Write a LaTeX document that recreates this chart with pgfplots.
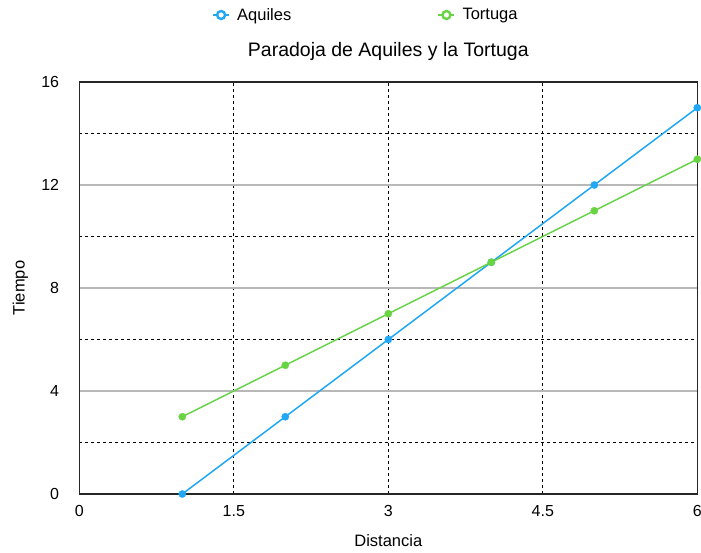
\documentclass[border=0pt]{standalone}
\usepackage{fontspec}
\setmainfont{Liberation Sans}
\usepackage{pgfplots}
\pgfplotsset{compat=1.18}
\definecolor{aqblue}{RGB}{33,168,245}
\definecolor{tortgreen}{RGB}{104,212,68}
\begin{document}
\begin{tikzpicture}[x=1pt,y=1pt]
\useasboundingbox (0,0) rectangle (701,552);
\begin{axis}[
  at={(79.3pt,58pt)}, anchor=south west,
  scale only axis, width=618pt, height=412pt,
  xmin=0, xmax=6, ymin=0, ymax=16,
  xtick={0,1.5,3,4.5,6}, ytick={0,4,8,12,16},
  xticklabels={0,1.5,3,4.5,6},
  minor ytick={2,6,10,14},
  xmajorgrids, ymajorgrids, yminorgrids,
  major x grid style={black, dash pattern=on 3pt off 3pt, line width=1.1pt},
  major y grid style={black!28, line width=1.2pt},
  minor y grid style={black, dash pattern=on 3pt off 3pt, line width=1.1pt},
  axis line style={black!85, line width=1.5pt},
  major tick length=0pt, minor tick length=0pt,
  /pgf/number format/assume math mode=true,
  ticklabel style={font=\fontsize{16}{18}\selectfont},
  yticklabel style={anchor=east, inner sep=0pt, xshift=-20pt},
  xticklabel style={anchor=north, inner sep=0pt, yshift=-11pt},
  title={Paradoja de Aquiles y la Tortuga},
  title style={at={(0.5,1.0607)}, anchor=center, font=\fontsize{19.5}{22}\selectfont},
  xlabel={Distancia},
  xlabel style={at={(0.5,-0.114)}, anchor=center, font=\fontsize{16.5}{19}\selectfont},
  ylabel={Tiempo},
  ylabel style={at={(-0.0955,0.5)}, anchor=center, font=\fontsize{16.5}{19}\selectfont},
  clip mode=individual,
  legend columns=2,
  legend style={draw=none, fill=none, at={(0.4636,1.1626)}, anchor=center,
    font=\fontsize{16.5}{19}\selectfont,
    /tikz/every odd column/.append style={column sep=5pt},
    /tikz/every even column/.append style={column sep=144pt}},
  legend image code/.code={
    \draw[#1, line width=2.2pt] (-8pt,0) -- (8pt,0);
    \draw[#1, line width=2.4pt, fill=white] (0,0) circle (4pt);
  },
]
\addplot[color=aqblue, line width=1.5pt, mark=*, mark size=3.6pt, mark options={solid, fill=aqblue, draw=aqblue, line width=0.4pt}]
  coordinates {(1,0) (2,3) (3,6) (4,9) (5,12) (6,15)};
\addlegendentry{Aquiles}
\addplot[color=tortgreen, line width=1.5pt, mark=*, mark size=3.6pt, mark options={solid, fill=tortgreen, draw=tortgreen, line width=0.4pt}]
  coordinates {(1,3) (2,5) (3,7) (4,9) (5,11) (6,13)};
\addlegendentry{Tortuga}
\end{axis}
\end{tikzpicture}
\end{document}
